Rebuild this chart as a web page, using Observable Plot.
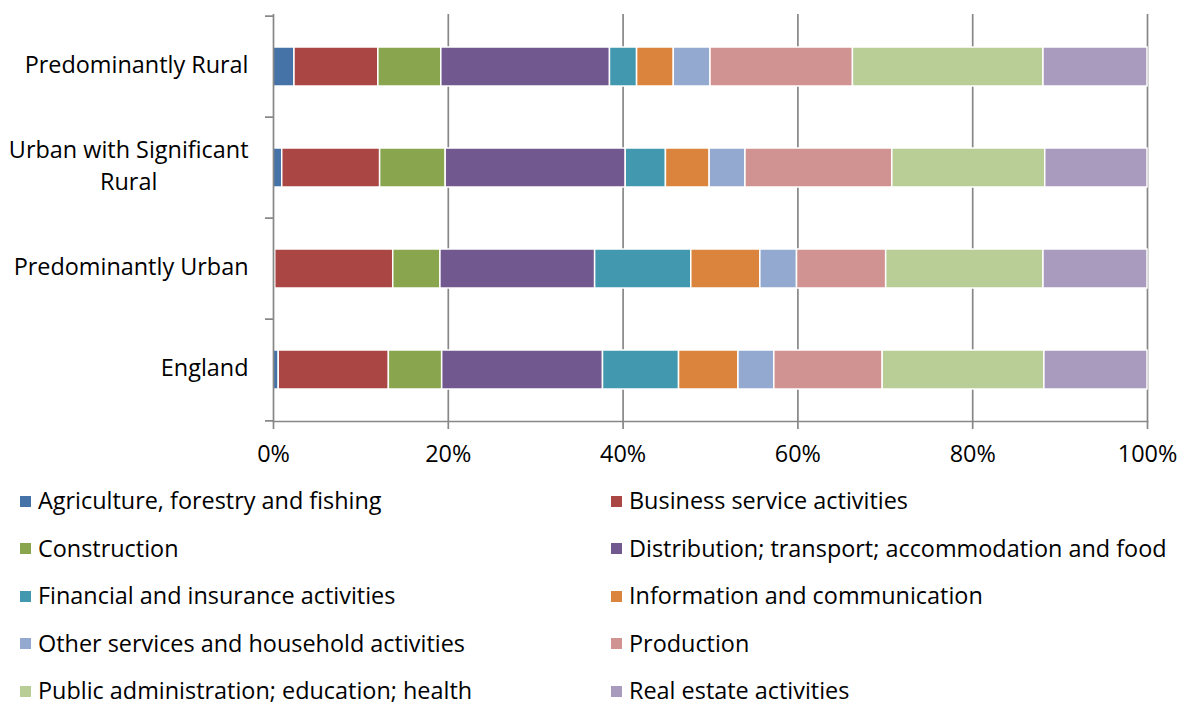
<!DOCTYPE html>
<html><head><meta charset="utf-8">
<script src="https://cdn.jsdelivr.net/npm/d3@7"></script>
<script src="https://cdn.jsdelivr.net/npm/@observablehq/plot@0.6"></script>
<style>
body{margin:0;background:#fff;}
#wrap{position:relative;width:1178px;height:705px;font-family:"Open Sans",sans-serif;}
#wrap svg{display:block;}
.leg{position:absolute;display:flex;align-items:center;white-space:nowrap;color:#000;height:22px;line-height:22px;}
.sw{width:11px;height:11px;flex:none;}
</style></head><body><div id="wrap"></div>
<script>
// ---- data ----
const regions = ["Predominantly Rural", "Urban with Significant Rural", "Predominantly Urban", "England"];
const regionLabels = ["Predominantly Rural", "Urban with Significant\nRural", "Predominantly Urban", "England"];
const sectors = [
  "Agriculture, forestry and fishing",
  "Business service activities",
  "Construction",
  "Distribution; transport; accommodation and food",
  "Financial and insurance activities",
  "Information and communication",
  "Other services and household activities",
  "Production",
  "Public administration; education; health",
  "Real estate activities"
];
const colors = ["#4572A7", "#AA4643", "#89A54E", "#71588F", "#4198AF", "#DB843D", "#93A9CF", "#D19392", "#B9CD96", "#A99BBD"];
const predominantlyRural        = [2.4, 9.6, 7.2, 19.3, 3.1, 4.2, 4.2, 16.3, 21.8, 11.9];
const urbanWithSignificantRural = [1.0, 11.2, 7.5, 20.6, 4.6, 5.0, 4.1, 16.8, 17.5, 11.7];
const predominantlyUrban        = [0.2, 13.5, 5.4, 17.7, 11.0, 7.9, 4.2, 10.2, 18.0, 11.9];
const england                   = [0.6, 12.6, 6.1, 18.4, 8.7, 6.8, 4.1, 12.4, 18.5, 11.8];
const xTicks = [0, 20, 40, 60, 80, 100];

const seriesByRegion = [predominantlyRural, urbanWithSignificantRural, predominantlyUrban, england];
const table = [];
regions.forEach((r, i) => sectors.forEach((s, j) => table.push({region: r, sector: s, value: seriesByRegion[i][j]})));

// ---- font sizing ----
const FONT = '"Open Sans", sans-serif';
const ctx = document.createElement("canvas").getContext("2d");
ctx.font = `100px ${FONT}`;
const FS = 538 / ctx.measureText("Distribution; transport; accommodation and food").width * 100;
ctx.font = `${FS}px ${FONT}`;
const usrW = ctx.measureText("Urban with Significant").width;

// ---- layout ----
const W = 1178, H = 480, mT = 14, mB = 59, mL = 273, mR = 31;
const step = (H - mT - mB) / regions.length;
const grey = "#878787";

const labelMarks = regions.map((r, i) => {
  const multi = regionLabels[i].includes("\n");
  return Plot.text([r], {
    y: d => d, frameAnchor: "left", text: () => regionLabels[i],
    textAnchor: multi ? "middle" : "end",
    dx: multi ? -(25 + usrW / 2) : -25, dy: -4,
    lineHeight: 32 / FS, fill: "#000", fontSize: FS
  });
});

const plot = Plot.plot({
  width: W, height: H, marginTop: mT, marginBottom: mB, marginLeft: mL, marginRight: mR,
  style: {fontFamily: FONT, fontSize: FS + "px", color: "#000", background: "#fff"},
  x: {domain: [0, 100], axis: null, label: null},
  y: {domain: regions, paddingInner: 0.617, paddingOuter: 0.3085, align: 0.5, axis: null, label: null},
  color: {domain: sectors, range: colors},
  marks: [
    Plot.ruleX(xTicks.slice(1), {stroke: grey, strokeWidth: 1.7}),
    Plot.axisX({ticks: xTicks, tickSize: 8, tickPadding: 16, tickFormat: d => d + "%", label: null,
      stroke: grey, strokeWidth: 1.7, fill: "#000", fontSize: FS}),
    Plot.barX(table, Plot.stackX({x: "value", y: "region", fill: "sector", order: sectors,
      stroke: "white", strokeWidth: 1.5})),
    Plot.ruleX([0], {stroke: grey, strokeWidth: 1.7}),
    Plot.frame({anchor: "bottom", stroke: grey, strokeWidth: 1.7}),
    Plot.ruleY(regions, {y: d => d, dy: -step / 2, x1: 0, x2: 0, insetLeft: -8, stroke: grey, strokeWidth: 1.7}),
    Plot.ruleY([regions[regions.length - 1]], {y: d => d, dy: step / 2, x1: 0, x2: 0, insetLeft: -8, stroke: grey, strokeWidth: 1.7}),
    ...labelMarks
  ]
});
const wrap = document.getElementById("wrap");
wrap.appendChild(plot);

// ---- legend (HTML, below the SVG) ----
const rowCenter0 = 500, rowStep = 47.5;
sectors.forEach((s, j) => {
  const row = Math.floor(j / 2), col = j % 2;
  const d = document.createElement("div");
  d.className = "leg";
  d.style.left = (col === 0 ? 20 : 611) + "px";
  d.style.top = (rowCenter0 + row * rowStep - 11) + "px";
  d.style.fontSize = FS + "px";
  const sw = document.createElement("span");
  sw.className = "sw"; sw.style.background = colors[j]; sw.style.marginRight = "7px";
  sw.style.marginTop = "2px";
  const t = document.createElement("span");
  t.textContent = s;
  d.appendChild(sw); d.appendChild(t);
  wrap.appendChild(d);
});
</script>
</body></html>
